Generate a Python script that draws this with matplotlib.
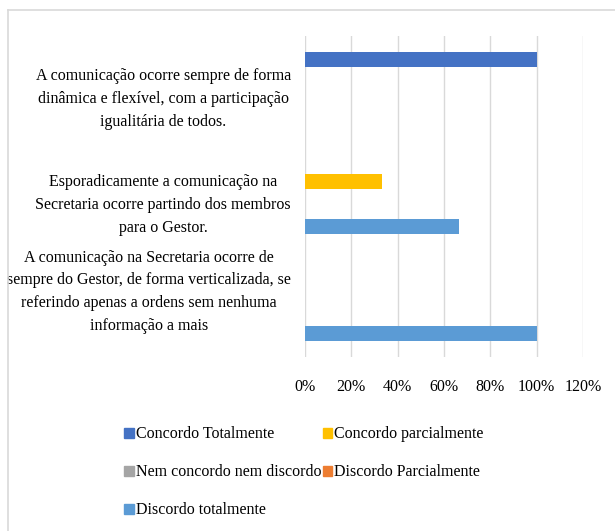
import numpy as np
import matplotlib
matplotlib.use('Agg')
import matplotlib.pyplot as plt
from matplotlib.lines import Line2D
from matplotlib.patches import Patch

plt.rcParams['font.family'] = ['Liberation Serif', 'DejaVu Serif']

# categories from top to bottom
categorias = ['A comunicação ocorre sempre de forma\ndinâmica e flexível, com a participação\nigualitária de todos.',
              'Esporadicamente a comunicação na\nSecretaria ocorre partindo dos membros\npara o Gestor.',
              'A comunicação na Secretaria ocorre de\nsempre do Gestor, de forma verticalizada, se\nreferindo apenas a ordens sem nenhuma\ninformação a mais']
series = ['Concordo Totalmente', 'Concordo parcialmente', 'Nem concordo nem discordo',
          'Discordo Parcialmente', 'Discordo totalmente']
cores = ['#4472C4', '#FFC000', '#A5A5A5', '#ED7D31', '#5B9BD5']

# values per series (same order as categorias)
concordo_tot = [100, 0, 0]
concordo_parc = [0, 33.33, 0]
nem = [0, 0, 0]
discordo_parc = [0, 0, 0]
discordo_tot = [0, 66.67, 100]
valores = [concordo_tot, concordo_parc, nem, discordo_parc, discordo_tot]

xticks = [0, 20, 40, 60, 80, 100, 120]

W, H = 615, 531
fig = plt.figure(figsize=(W/100, H/100), dpi=100)
ax = fig.add_axes([305/W, 1-357/H, (583-305)/W, (357-36)/H])

centros = np.array([2.5, 1.5, 0.5])
slot = 0.14
for i, (s, v) in enumerate(zip(series, valores)):
    ax.barh(centros + 0.28 - slot*i, v, height=0.135, color=cores[i], label=s, zorder=3)

ax.set_xlim(0, 120)
ax.set_ylim(0, 3)
ax.set_xticks(xticks)
ax.set_xticklabels(['{}%'.format(t) for t in xticks], fontsize=11.5)
ax.grid(axis='x', color='#D9D9D9', lw=1, zorder=0)
for sp in ax.spines.values():
    sp.set_visible(False)
ax.tick_params(axis='x', length=0, pad=16)
ax.tick_params(axis='y', length=0, pad=10)
ax.set_yticks([2.46, 1.47, 0.66])
ax.set_yticklabels(categorias, fontsize=11.5, multialignment='center', linespacing=1.55)

# legend filled by rows like the original
h = [Patch(color=c) for c in cores]
ordem = [0, 2, 4, 1, 3]
fig.legend([h[k] for k in ordem], [series[k] for k in ordem], ncol=2, frameon=False,
           loc='upper left', bbox_to_anchor=(118/W, 1-420/H), fontsize=11.5,
           handlelength=0.6, handleheight=0.6, handletextpad=0.1, columnspacing=0.1,
           labelspacing=1.38, borderaxespad=0)

fig.add_artist(Line2D([8/W, 1], [1-10/H, 1-10/H], color='#D9D9D9', lw=1.2))
fig.add_artist(Line2D([8/W, 8/W], [0, 1-10/H], color='#D9D9D9', lw=1.2))

fig.savefig('out.png', dpi=100)
